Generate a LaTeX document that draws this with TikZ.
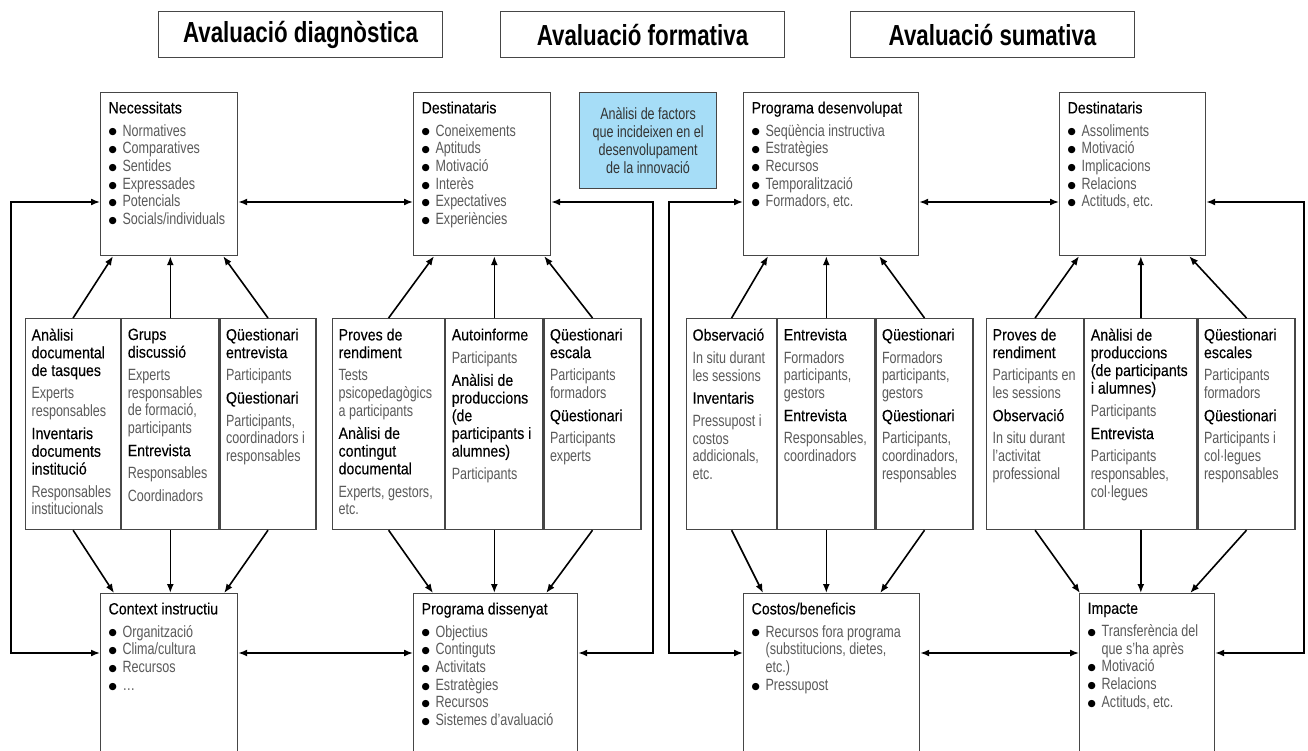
\documentclass[tikz,border=0pt]{standalone}
\usepackage{fontspec}
\setmainfont{Liberation Sans}[FakeStretch=0.77]
\newfontfamily\medfont{Liberation Sans}[FakeStretch=0.87, FakeBold=0.2]
\newfontfamily\headfont{Liberation Sans}[FakeStretch=0.77]
\newfontfamily\dotfont{DejaVu Sans}
\usetikzlibrary{arrows.meta, positioning}
\definecolor{framegray}{RGB}{70, 70, 70}
\definecolor{itemgray}{RGB}{90, 90, 90}
\definecolor{factorblue}{RGB}{166, 221, 247}
\newcommand{\hd}[1]{{\medfont\color{black}#1}}
\newcommand{\bul}{\makebox[14pt][l]{\color{black}\raisebox{1.2pt}{\dotfont\fontsize{9.5}{10}\selectfont ●}}}
\newcommand{\cont}{\hspace*{14pt}}
\newcommand{\boxtext}[3]{\parbox[t][#2][t]{#1}{\raggedright #3}}

\begin{document}
\begin{tikzpicture}[x=1pt, y=-1pt,
  font=\fontsize{16.3}{17.7}\selectfont,
  titlebox/.style={draw=framegray, line width=1.1pt, minimum width=284pt, minimum height=46pt,
    anchor=north west, font=\headfont\bfseries\fontsize{29}{32}\selectfont},
  box/.style={draw=framegray, line width=1.2pt, fill=white, anchor=north west,
    inner xsep=8pt, inner ysep=9pt, text=itemgray},
  col/.style={box, inner xsep=6pt, inner ysep=10pt},
  factor/.style={draw=framegray, line width=1.2pt, fill=factorblue, anchor=north west,
    minimum width=137pt, minimum height=96pt, align=center, inner sep=2pt, text=black!80},
  arr/.style={line width=1.6pt, -{Latex[length=9pt,width=7pt]}},
  dbl/.style={line width=1.6pt, {Latex[length=9pt,width=7pt]}-{Latex[length=9pt,width=7pt]}},
]
\path[use as bounding box] (0,0) rectangle (1308,751);
\clip (0,0) rectangle (1308,751);

% Headings
\node[titlebox] (diag) at (158,11) {Avaluació diagnòstica};
\node[titlebox] (form) at (500,11) {Avaluació formativa};
\node[titlebox] (suma) at (850,11) {Avaluació sumativa};

% Top row
\node[box] (nec) at (100,92) {\boxtext{121pt}{145pt}{\hd{Necessitats}\\[5pt]
  \bul Normatives\\ \bul Comparatives\\ \bul Sentides\\ \bul Expressades\\
  \bul Potencials\\ \bul Socials/individuals}};

\node[box] (dst1) at (413,92) {\boxtext{121pt}{145pt}{\hd{Destinataris}\\[5pt]
  \bul Coneixements\\ \bul Aptituds\\ \bul Motivació\\ \bul Interès\\
  \bul Expectatives\\ \bul Experiències}};

\node[factor] (fac) at (579,92) {Anàlisi de factors\\que incideixen en el\\desenvolupament\\de la innovació};

\node[box] (pdes) at (743,92) {\boxtext{159pt}{145pt}{\hd{Programa desenvolupat}\\[5pt]
  \bul Seqüència instructiva\\ \bul Estratègies\\ \bul Recursos\\
  \bul Temporalització\\ \bul Formadors, etc.}};

\node[box] (dst2) at (1059,92) {\boxtext{130pt}{145pt}{\hd{Destinataris}\\[5pt]
  \bul Assoliments\\ \bul Motivació\\ \bul Implicacions\\ \bul Relacions\\
  \bul Actituds, etc.}};

% Middle row: instruments and informants
\node[col] (m1a) at (25,318) {\boxtext{83pt}{191pt}{\hd{Anàlisi\\documental\\de tasques}\\[5pt]
  Experts\\responsables\\[5pt] \hd{Inventaris\\documents\\institució}\\[5pt]
  Responsables\\institucionals}};
\node[col] (m1b) at (m1a.north east) {\boxtext{85pt}{191pt}{\hd{Grups\\discussió}\\[5pt]
  Experts\\responsables\\de formació,\\participants\\[5pt] \hd{Entrevista}\\[5pt]
  Responsables\\[5pt] Coordinadors}};
\node[col] (m1c) at (m1b.north east) {\boxtext{84pt}{191pt}{\hd{Qüestionari\\entrevista}\\[5pt]
  Participants\\[5pt] \hd{Qüestionari}\\[5pt]
  Participants,\\coordinadors i\\responsables}};

\node[col] (m2a) at (332,318) {\boxtext{100pt}{191pt}{\hd{Proves de\\rendiment}\\[5pt]
  Tests\\psicopedagògics\\a participants\\[5pt] \hd{Anàlisi de\\contingut\\documental}\\[5pt]
  Experts, gestors,\\etc.}};
\node[col] (m2b) at (m2a.north east) {\boxtext{85pt}{191pt}{\hd{Autoinforme}\\[5pt]
  Participants\\[5pt] \hd{Anàlisi de\\produccions\\(de\\participants i\\alumnes)}\\[5pt]
  Participants}};
\node[col] (m2c) at (m2b.north east) {\boxtext{85pt}{191pt}{\hd{Qüestionari\\escala}\\[5pt]
  Participants\\formadors\\[5pt] \hd{Qüestionari}\\[5pt]
  Participants\\experts}};

\node[col] (m3a) at (686,318) {\boxtext{78pt}{191pt}{\hd{Observació}\\[5pt]
  In situ durant\\les sessions\\[5pt] \hd{Inventaris}\\[5pt]
  Pressupost i\\costos\\addicionals,\\etc.}};
\node[col] (m3b) at (m3a.north east) {\boxtext{85pt}{191pt}{\hd{Entrevista}\\[5pt]
  Formadors\\participants,\\gestors\\[5pt] \hd{Entrevista}\\[5pt]
  Responsables,\\coordinadors}};
\node[col] (m3c) at (m3b.north east) {\boxtext{85pt}{191pt}{\hd{Qüestionari}\\[5pt]
  Formadors\\participants,\\gestors\\[5pt] \hd{Qüestionari}\\[5pt]
  Participants,\\coordinadors,\\responsables}};

\node[col] (m4a) at (986,318) {\boxtext{85pt}{191pt}{\hd{Proves de\\rendiment}\\[5pt]
  Participants en\\les sessions\\[5pt] \hd{Observació}\\[5pt]
  In situ durant\\l'activitat\\professional}};
\node[col] (m4b) at (m4a.north east) {\boxtext{100pt}{191pt}{\hd{Anàlisi de\\produccions\\(de participants\\i alumnes)}\\[5pt]
  Participants\\[5pt] \hd{Entrevista}\\[5pt]
  Participants\\responsables,\\col·legues}};
\node[col] (m4c) at (m4b.north east) {\boxtext{85pt}{191pt}{\hd{Qüestionari\\escales}\\[5pt]
  Participants\\formadors\\[5pt] \hd{Qüestionari}\\[5pt]
  Participants i\\col·legues\\responsables}};

% Bottom row (runs off the page)
\node[box] (ctx) at (100,593) {\boxtext{121pt}{190pt}{\hd{Context instructiu}\\[5pt]
  \bul Organització\\ \bul Clima/cultura\\ \bul Recursos\\ \bul \ldots}};

\node[box] (pdis) at (413,593) {\boxtext{148pt}{190pt}{\hd{Programa dissenyat}\\[5pt]
  \bul Objectius\\ \bul Continguts\\ \bul Activitats\\ \bul Estratègies\\
  \bul Recursos\\ \bul Sistemes d'avaluació}};

\node[box] (cost) at (743,593) {\boxtext{160pt}{190pt}{\hd{Costos/beneficis}\\[5pt]
  \bul Recursos fora programa\\ \cont(substitucions, dietes,\\ \cont etc.)\\ \bul Pressupost}};

\node[box] (imp) at (1079,593) {\boxtext{119pt}{190pt}{\hd{Impacte}\\[5pt]
  \bul Transferència del\\ \cont que s'ha après\\ \bul Motivació\\ \bul Relacions\\
  \bul Actituds, etc.}};

% Side rails and horizontal links
\coordinate (railA) at (11,0);
\coordinate (railB) at (653,0);
\coordinate (railC) at (669,0);
\coordinate (railD) at (1304,0);
\coordinate (necW) at ([yshift=-110pt]nec.north west);
\coordinate (necE) at ([yshift=-110pt]nec.north east);
\coordinate (dst1W) at ([yshift=-110pt]dst1.north west);
\coordinate (dst1E) at ([yshift=-110pt]dst1.north east);
\coordinate (pdesW) at ([yshift=-110pt]pdes.north west);
\coordinate (pdesE) at ([yshift=-110pt]pdes.north east);
\coordinate (dst2W) at ([yshift=-110pt]dst2.north west);
\coordinate (dst2E) at ([yshift=-110pt]dst2.north east);
\coordinate (ctxW) at ([yshift=-60pt]ctx.north west);
\coordinate (ctxE) at ([yshift=-60pt]ctx.north east);
\coordinate (pdisW) at ([yshift=-60pt]pdis.north west);
\coordinate (pdisE) at ([yshift=-60pt]pdis.north east);
\coordinate (costW) at ([yshift=-60pt]cost.north west);
\coordinate (costE) at ([yshift=-60pt]cost.north east);
\coordinate (impW) at ([yshift=-60pt]imp.north west);
\coordinate (impE) at ([yshift=-60pt]imp.north east);

\draw[dbl] (necW) -- (necW -| railA) -- (ctxW -| railA) -- (ctxW);
\draw[dbl] (necE) -- (dst1W);
\draw[dbl] (ctxE) -- (pdisW);
\draw[dbl] (dst1E) -- (dst1E -| railB) -- (pdisE -| railB) -- (pdisE);

\draw[dbl] (pdesW) -- (pdesW -| railC) -- (costW -| railC) -- (costW);
\draw[dbl] (pdesE) -- (dst2W);
\draw[dbl] (costE) -- (impW);
\draw[dbl] (dst2E) -- (dst2E -| railD) -- (impE -| railD) -- (impE);

% Arrows from the instruments
\draw[arr] (m1a.north) -- ([xshift=13pt]nec.south west);
\draw[arr] (m1b.north) -- (m1b.north |- nec.south);
\draw[arr] (m1c.north) -- ([xshift=-15pt]nec.south east);
\draw[arr] (m1a.south) -- ([xshift=14pt]ctx.north west);
\draw[arr] (m1b.south) -- (m1b.south |- ctx.north);
\draw[arr] (m1c.south) -- ([xshift=-14pt]ctx.north east);

\draw[arr] (m2a.north) -- ([xshift=21pt]dst1.south west);
\draw[arr] (m2b.north) -- (m2b.north |- dst1.south);
\draw[arr] (m2c.north) -- ([xshift=-7pt]dst1.south east);
\draw[arr] (m2a.south) -- ([xshift=20pt]pdis.north west);
\draw[arr] (m2b.south) -- (m2b.south |- pdis.north);
\draw[arr] (m2c.south) -- ([xshift=-32pt]pdis.north east);

\draw[arr] (m3a.north) -- ([xshift=25pt]pdes.south west);
\draw[arr] (m3b.north) -- (m3b.north |- pdes.south);
\draw[arr] (m3c.north) -- ([xshift=-40pt]pdes.south east);
\draw[arr] (m3a.south) -- ([xshift=20pt]cost.north west);
\draw[arr] (m3b.south) -- (m3b.south |- cost.north);
\draw[arr] (m3c.south) -- ([xshift=-40pt]cost.north east);

\draw[arr] (m4a.north) -- ([xshift=20pt]dst2.south west);
\draw[arr] (m4b.north) -- (m4b.north |- dst2.south);
\draw[arr] (m4c.north) -- ([xshift=-17pt]dst2.south east);
\draw[arr] (m4a.south) -- ([xshift=1pt]imp.north west);
\draw[arr] (m4b.south) -- (m4b.south |- imp.north);
\draw[arr] (m4c.south) -- ([xshift=-25pt]imp.north east);
\end{tikzpicture}
\end{document}
